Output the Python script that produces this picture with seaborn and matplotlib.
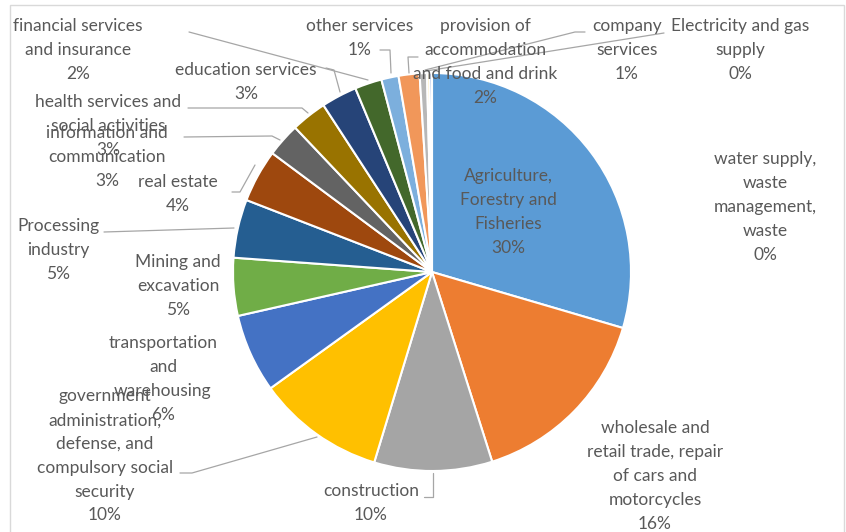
import numpy as np
import pandas as pd
import seaborn as sns
import matplotlib.pyplot as plt
from matplotlib.patches import Rectangle

sns.set_theme(style='white')
plt.rcParams['font.family'] = ['Lato', 'DejaVu Sans']

# sectors, clockwise from 12 o'clock
sectors = ['Agriculture,\nForestry and\nFisheries',
           'wholesale and\nretail trade, repair\nof cars and\nmotorcycles',
           'construction',
           'government\nadministration,\ndefense, and\ncompulsory social\nsecurity',
           'transportation\nand\nwarehousing',
           'Mining and\nexcavation',
           'Processing\nindustry',
           'real estate',
           'information and\ncommunication',
           'health services and\nsocial activities',
           'education services',
           'financial services\nand insurance',
           'other services',
           'provision of\naccommodation\nand food and drink',
           'company\nservices',
           'Electricity and gas\nsupply',
           'water supply,\nwaste\nmanagement,\nwaste']
shares = [29.6, 15.6, 9.6, 10.4, 6.4, 4.7, 4.75, 4.3, 2.75, 2.9, 2.9, 2.2, 1.4, 1.7, 0.6, 0.2, 0.2]
colors = ['#5B9BD5', '#ED7D31', '#A5A5A5', '#FFC000', '#4472C4', '#70AD47',
          '#255E91', '#9E480E', '#636363', '#997300', '#264478', '#43682B',
          '#7CAFDD', '#F1975A', '#B7B7B7', '#FFCD33', '#698ED0']

df = pd.DataFrame({'sector': sectors, 'share': shares, 'color': colors})
df['pct'] = (df.share / df.share.sum() * 100).round().astype(int).astype(str) + '%'

W, H = 846, 532
fig = plt.figure(figsize=(W / 100, H / 100), dpi=100)
ax = fig.add_axes([0, 0, 1, 1])

cx, cy, r = 432, H - 272, 199
wedges, _ = ax.pie(df.share, colors=df.color, startangle=90, counterclock=False,
                   center=(cx, cy), radius=r, frame=True,
                   wedgeprops=dict(edgecolor='white', linewidth=1.5))
ax.set_xlim(0, W)
ax.set_ylim(0, H)
ax.set_aspect('equal')
ax.axis('off')

# chart border
ax.add_patch(Rectangle((10, -10), 834, H - 5 + 10, fill=False,
                       edgecolor='#D9D9D9', linewidth=1, clip_on=False))

# label layout (pixel coords, top-left origin): centre x, centre y, leader points
layout = {
    0: (508, 212, None),
    1: (655, 476, None),
    2: (371, 503, [(424, 497), (433, 497), (433, 473)]),
    3: (105, 456, [(180, 473), (192, 473), (317, 437)]),
    4: (163, 379, None),
    5: (178, 286, None),
    6: (58, 250, [(104, 232), (234, 228)]),
    7: (178, 194, [(232, 192), (240, 192), (255, 165)]),
    8: (107, 157, [(184, 137), (272, 136), (280, 140)]),
    9: (108, 126, [(188, 108), (302, 108), (308, 113)]),
    10: (246, 82, [(326, 68), (334, 70), (340, 92)]),
    11: (78, 50, [(189, 32), (368, 80)]),
    12: (360, 38, [(380, 50), (390, 50), (391, 73)]),
    13: (485, 62, [(418, 57), (408, 57), (409, 73)]),
    14: (627, 50, [(585, 32), (575, 32), (425, 70)]),
    15: (740, 50, [(664, 33), (426, 71)]),
    16: (765, 207, None),
}

for i, row in df.iterrows():
    x, y, pts = layout[i]
    ax.text(x, H - y, row.sector + '\n' + row.pct, ha='center', va='center',
            fontsize=12.5, color='#595959', linespacing=1.6)
    if pts:
        xs = [p[0] for p in pts]
        ys = [H - p[1] for p in pts]
        ax.plot(xs, ys, color='#A6A6A6', linewidth=0.9)

fig.savefig('out.png', dpi=100)
